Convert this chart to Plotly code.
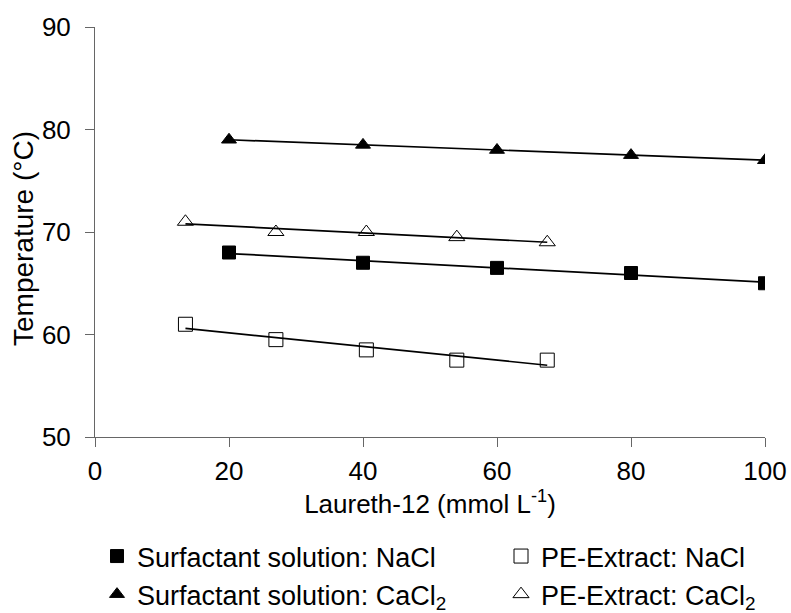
import numpy as np
import plotly.graph_objects as go

# Data
x_surf = [20, 40, 60, 80, 100]
y_surf_nacl = [68.0, 67.0, 66.5, 66.0, 65.0]
y_surf_cacl2 = [79.0, 78.5, 78.0, 77.5, 77.0]
x_pe = [13.5, 27.0, 40.5, 54.0, 67.5]
y_pe_nacl = [61.0, 59.5, 58.5, 57.5, 57.5]
y_pe_cacl2 = [71.0, 70.0, 70.0, 69.5, 69.0]

names = ["Surfactant solution: NaCl", "PE-Extract: NaCl",
         "Surfactant solution: CaCl<sub>2</sub>", "PE-Extract: CaCl<sub>2</sub>"]

series = [
    (x_surf, y_surf_nacl, names[0], "square", 13, "legend"),
    (x_pe, y_pe_nacl, names[1], "square-open", 14, "legend2"),
    (x_surf, y_surf_cacl2, names[2], "triangle-up", 13, "legend"),
    (x_pe, y_pe_cacl2, names[3], "triangle-up-open", 14, "legend2"),
]

fig = go.Figure()
for xs, ys, nm, sym, sz, lg in series:
    k, b = np.polyfit(xs, ys, 1)
    xl = [xs[0], xs[-1]]
    fig.add_trace(go.Scatter(x=xl, y=[k * v + b for v in xl], mode="lines",
                             line=dict(color="black", width=1.7),
                             showlegend=False, hoverinfo="skip"))
for xs, ys, nm, sym, sz, lg in series:
    fig.add_trace(go.Scatter(x=xs, y=ys, mode="markers", name=nm, legend=lg,
                             marker=dict(symbol=sym, size=sz, color="black",
                                         line=dict(color="black", width=1))))

font = "Liberation Sans, Arial, sans-serif"
leg_common = dict(orientation="v", xref="container", yref="container",
                  xanchor="left", yanchor="top", font=dict(size=27, family=font),
                  itemsizing="trace", tracegroupgap=0, bgcolor="rgba(0,0,0,0)")
fig.update_layout(
    width=791, height=613,
    margin=dict(l=95, r=26, t=27, b=176, autoexpand=False),
    paper_bgcolor="white", plot_bgcolor="white",
    font=dict(family=font, size=26, color="black"),
    legend=dict(x=97 / 791, y=1 - 532 / 613, **leg_common),
    legend2=dict(x=501 / 791, y=1 - 532 / 613, **leg_common),
)
fig.add_annotation(text="Temperature (°C)", textangle=-90, showarrow=False,
                   xref="paper", yref="paper", x=(23 - 95) / 670, y=(437 - 239) / 410,
                   xanchor="center", yanchor="middle", font=dict(size=28))
fig.update_xaxes(range=[0, 100], tickvals=[0, 20, 40, 60, 80, 100],
                 showgrid=False, zeroline=False, showline=True, linecolor="#666",
                 linewidth=1, ticks="outside", ticklen=9, tickcolor="#666",
                 ticklabelstandoff=2,
                 title=dict(text="Laureth-12 (mmol L<sup>-1</sup>)", standoff=8,
                            font=dict(size=26)))
fig.update_yaxes(range=[50, 90], tickvals=[50, 60, 70, 80, 90],
                 showgrid=False, zeroline=False, showline=True, linecolor="#666",
                 linewidth=1, ticks="outside", ticklen=9, tickcolor="#666",
                 ticklabelstandoff=9)

fig.write_html("out.html")
